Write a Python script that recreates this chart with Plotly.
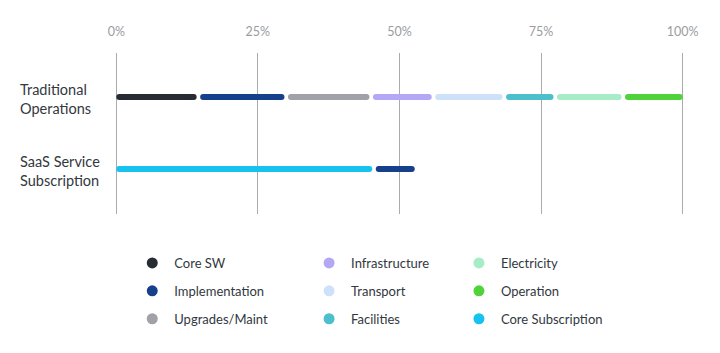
import plotly.graph_objects as go
import numpy as np

# ---- data ----
rows = ["Traditional Operations", "SaaS Service Subscription"]
row_lines = [["Traditional", "Operations"], ["SaaS Service", "Subscription"]]

trad_items = ["Core SW", "Implementation", "Upgrades/Maint", "Infrastructure",
              "Transport", "Facilities", "Electricity", "Operation"]
trad_values = [14.5, 15.5, 15.0, 11.0, 12.5, 9.0, 12.0, 10.5]

saas_items = ["Core Subscription", "Implementation"]
saas_values = [45.5, 7.5]

tick_vals = [0, 25, 50, 75, 100]
tick_text = ["0%", "25%", "50%", "75%", "100%"]

colors = {
    "Core SW": "#272b33",
    "Implementation": "#17408c",
    "Upgrades/Maint": "#a0a2a8",
    "Infrastructure": "#b4a8f6",
    "Transport": "#cde2fa",
    "Facilities": "#4cbfcd",
    "Electricity": "#a6ecc6",
    "Operation": "#4fd23a",
    "Core Subscription": "#17c2f1",
}

legend_columns = [
    ["Core SW", "Implementation", "Upgrades/Maint"],
    ["Infrastructure", "Transport", "Facilities"],
    ["Electricity", "Operation", "Core Subscription"],
]

# ---- layout constants ----
W, H = 720, 353
X0_PX, X100_PX = 116, 683
px_per_unit = (X100_PX - X0_PX) / 100.0
PADR = 0.4  # small range padding so edge gridlines are drawn
ML = X0_PX - PADR * px_per_unit
MR = W - (X100_PX + PADR * px_per_unit)
MT, MB = 53, 139
plot_w = W - ML - MR
plot_h = H - MT - MB
BAR_W = 6
GAP_PX = 3.5
cap = BAR_W / 2.0

FONT = "Lato, 'Open Sans', sans-serif"

fig = go.Figure()

def add_row(row, items, values):
    starts = np.concatenate([[0], np.cumsum(values)[:-1]])
    ends = np.cumsum(values)
    for it, s, e in zip(items, starts, ends):
        s_in = (cap if s <= 0 else cap + GAP_PX / 2) / px_per_unit
        e_in = (cap if e >= 100 else cap + GAP_PX / 2) / px_per_unit
        fig.add_trace(go.Scatter(
            x=[s + s_in, e - e_in], y=[row, row],
            mode="lines+markers",
            line=dict(color=colors[it], width=BAR_W),
            marker=dict(color=colors[it], size=BAR_W, line=dict(width=0)),
            showlegend=False, hoverinfo="skip",
        ))

add_row(rows[0], trad_items, trad_values)
add_row(rows[1], saas_items, saas_values)

# legend entries (three columns)
legend_names = ["legend", "legend2", "legend3"]
for li, col in enumerate(legend_columns):
    for name in col:
        fig.add_trace(go.Scatter(
            x=[None], y=[None], mode="markers", name=name,
            marker=dict(color=colors[name], size=11),
            legend=legend_names[li], legendgroup=name,
        ))

# y labels as left-aligned annotations (one per line)
for r, lines in zip(rows, row_lines):
    for k, (txt, shift) in enumerate(zip(lines, [7, -12])):
        fig.add_annotation(
            x=(18 - ML) / plot_w, xref="paper", y=r, yref="y",
            text=txt, showarrow=False, xanchor="left", yanchor="middle",
            yshift=shift, align="left",
            font=dict(family=FONT, size=14.5, color="#333840"),
        )

col_x_px = [130, 307, 457]
leg_y = (H - MB - 248) / plot_h
legends = {}
for li, xp in enumerate(col_x_px):
    legends[legend_names[li]] = dict(
        orientation="v", yanchor="top", xanchor="left",
        x=(xp - ML) / plot_w, y=leg_y,
        font=dict(family=FONT, size=13, color="#333840"),
        bgcolor="rgba(0,0,0,0)", tracegroupgap=8, traceorder="grouped",
        itemwidth=34, itemclick=False, itemdoubleclick=False,
    )

fig.update_layout(
    width=W, height=H,
    margin=dict(l=ML, r=MR, t=MT, b=MB, pad=0),
    paper_bgcolor="white", plot_bgcolor="white",
    font=dict(family=FONT),
    xaxis=dict(
        range=[-PADR, 100 + PADR], side="top",
        tickvals=tick_vals, ticktext=tick_text,
        showgrid=True, gridcolor="#a9abaf", gridwidth=1,
        zeroline=False, showline=False,
        ticks="outside", ticklen=11, tickcolor="rgba(0,0,0,0)",
        tickfont=dict(family=FONT, size=12.5, color="#9a9ca0"),
        fixedrange=True,
    ),
    yaxis=dict(
        type="category", categoryorder="array",
        categoryarray=[rows[1], rows[0]],
        range=[-0.625, 1.61],
        showticklabels=False, showgrid=False, zeroline=False,
        fixedrange=True,
    ),
    showlegend=True,
    **legends,
)

fig.write_html("out.html")
